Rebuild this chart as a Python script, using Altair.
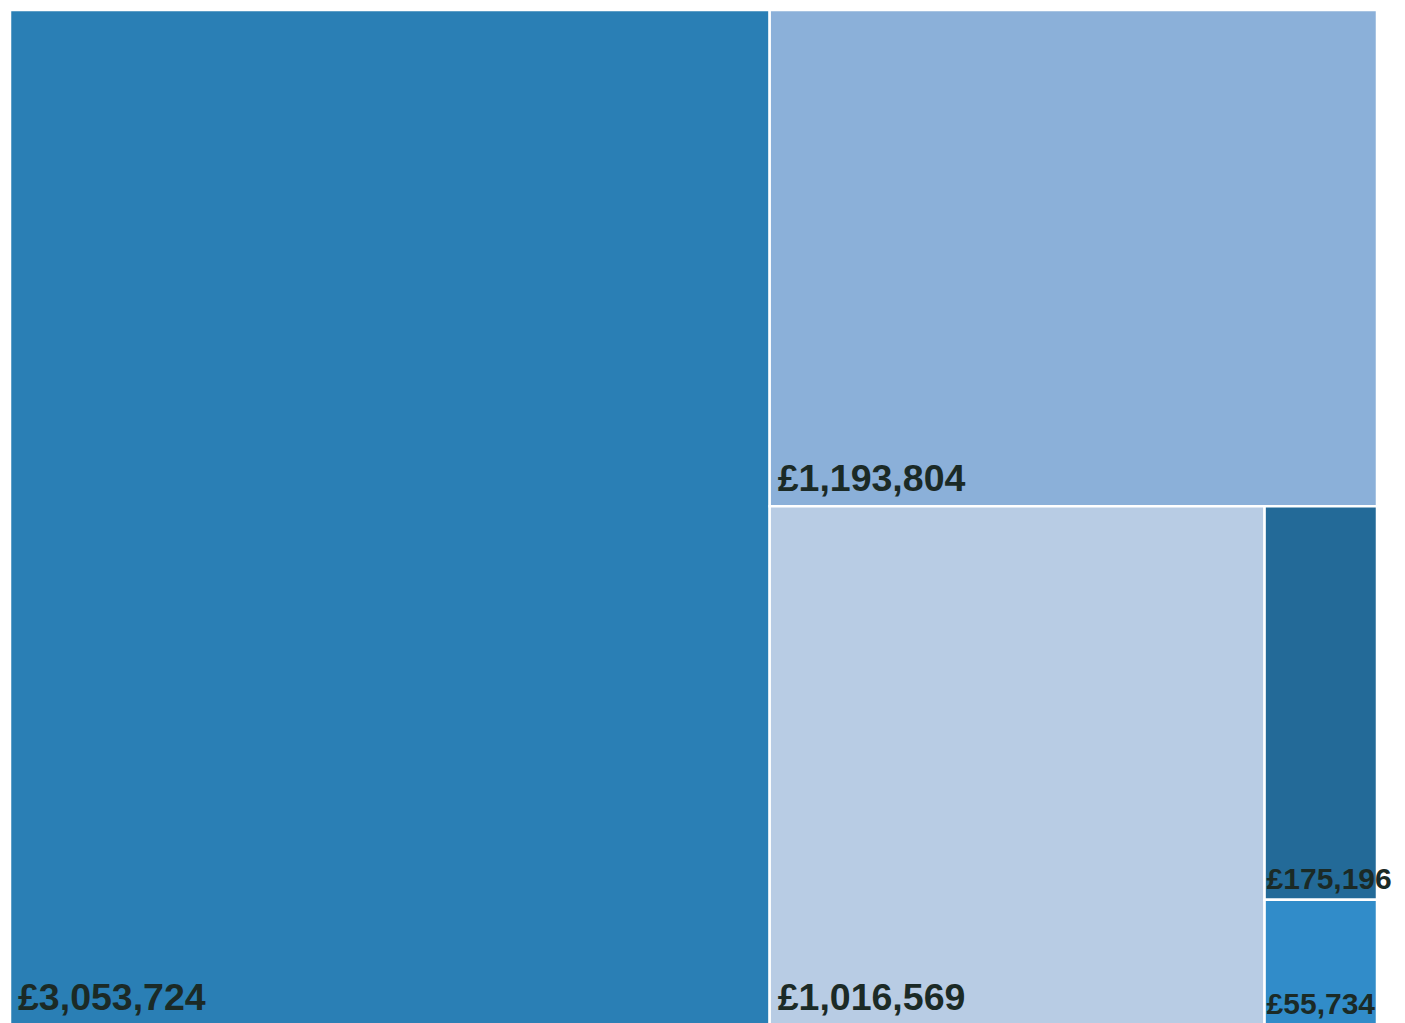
import math
import altair as alt
import pandas as pd

# ---- data ----
ids = ["A", "B", "C", "D", "E"]
values = [3053724, 1193804, 1016569, 175196, 55734]
palette = ["#2a7fb5", "#8bb0d9", "#b8cce4", "#236a98", "#318cc9"]

W, H = 1367, 1015  # layout units (aspect of the treemap)


def squarify(vals, x0, y0, x1, y1, ratio=(1 + math.sqrt(5)) / 2):
    """d3.treemapSquarify on a list of values sorted descending."""
    out = [None] * len(vals)
    value = float(sum(vals))
    n = len(vals)
    i0 = i1 = 0
    while i0 < n:
        dx, dy = x1 - x0, y1 - y0
        sum_v = min_v = max_v = vals[i1]
        i1 += 1
        alpha = max(dy / dx, dx / dy) / (value * ratio)
        beta = sum_v * sum_v * alpha
        min_ratio = max(max_v / beta, beta / min_v)
        while i1 < n:
            nv = vals[i1]
            sum_v += nv
            min_v = min(min_v, nv)
            max_v = max(max_v, nv)
            beta = sum_v * sum_v * alpha
            new_ratio = max(max_v / beta, beta / min_v)
            if new_ratio > min_ratio:
                sum_v -= nv
                break
            min_ratio = new_ratio
            i1 += 1
        row = list(range(i0, i1))
        if dx < dy:  # dice: row across the top
            ny = y0 + dy * sum_v / value if value else y1
            cx = x0
            for i in row:
                w = (x1 - x0) * vals[i] / sum_v
                out[i] = (cx, y0, cx + w, ny)
                cx += w
            y0 = ny
        else:  # slice: column on the left
            nx = x0 + dx * sum_v / value if value else x1
            cy = y0
            for i in row:
                h = (y1 - y0) * vals[i] / sum_v
                out[i] = (x0, cy, nx, cy + h)
                cy += h
            x0 = nx
        value -= sum_v
        i0 = i1
    return out


rects = squarify(values, 0, 0, W, H)
df = pd.DataFrame({
    "id": ids,
    "value": values,
    "x0": [r[0] for r in rects],
    "y0": [r[1] for r in rects],
    "x1": [r[2] for r in rects],
    "y1": [r[3] for r in rects],
})

xs = alt.Scale(domain=[0, W], nice=False, zero=False)
ys = alt.Scale(domain=[0, H], nice=False, zero=False, reverse=True)

base = alt.Chart(df).transform_calculate(
    label="'£' + format(datum.value, ',')"
)

rect = base.mark_rect(stroke="white", strokeWidth=2.5).encode(
    x=alt.X("x0:Q", scale=xs, axis=None),
    x2="x1:Q",
    y=alt.Y("y0:Q", scale=ys, axis=None),
    y2="y1:Q",
    color=alt.Color("id:N", scale=alt.Scale(domain=ids, range=palette), legend=None),
)

big = base.transform_filter("datum.value >= 500000").mark_text(
    align="left", baseline="alphabetic", dx=8, dy=-15,
    font="Liberation Sans", fontWeight="bold", fontSize=37.5, color="#1b2a26",
).encode(
    x=alt.X("x0:Q", scale=xs, axis=None),
    y=alt.Y("y1:Q", scale=ys, axis=None),
    text="label:N",
)

small = base.transform_filter("datum.value < 500000").mark_text(
    align="left", baseline="alphabetic", dx=2, dy=-11,
    font="Liberation Sans", fontWeight="bold", fontSize=30, color="#1b2a26",
).encode(
    x=alt.X("x0:Q", scale=xs, axis=None),
    y=alt.Y("y1:Q", scale=ys, axis=None),
    text="label:N",
)

chart = alt.layer(rect, big, small).properties(
    width=W, height=H, padding=0
).configure_view(stroke=None)

chart.save("out.html", embed_options={"renderer": "svg", "actions": False})
